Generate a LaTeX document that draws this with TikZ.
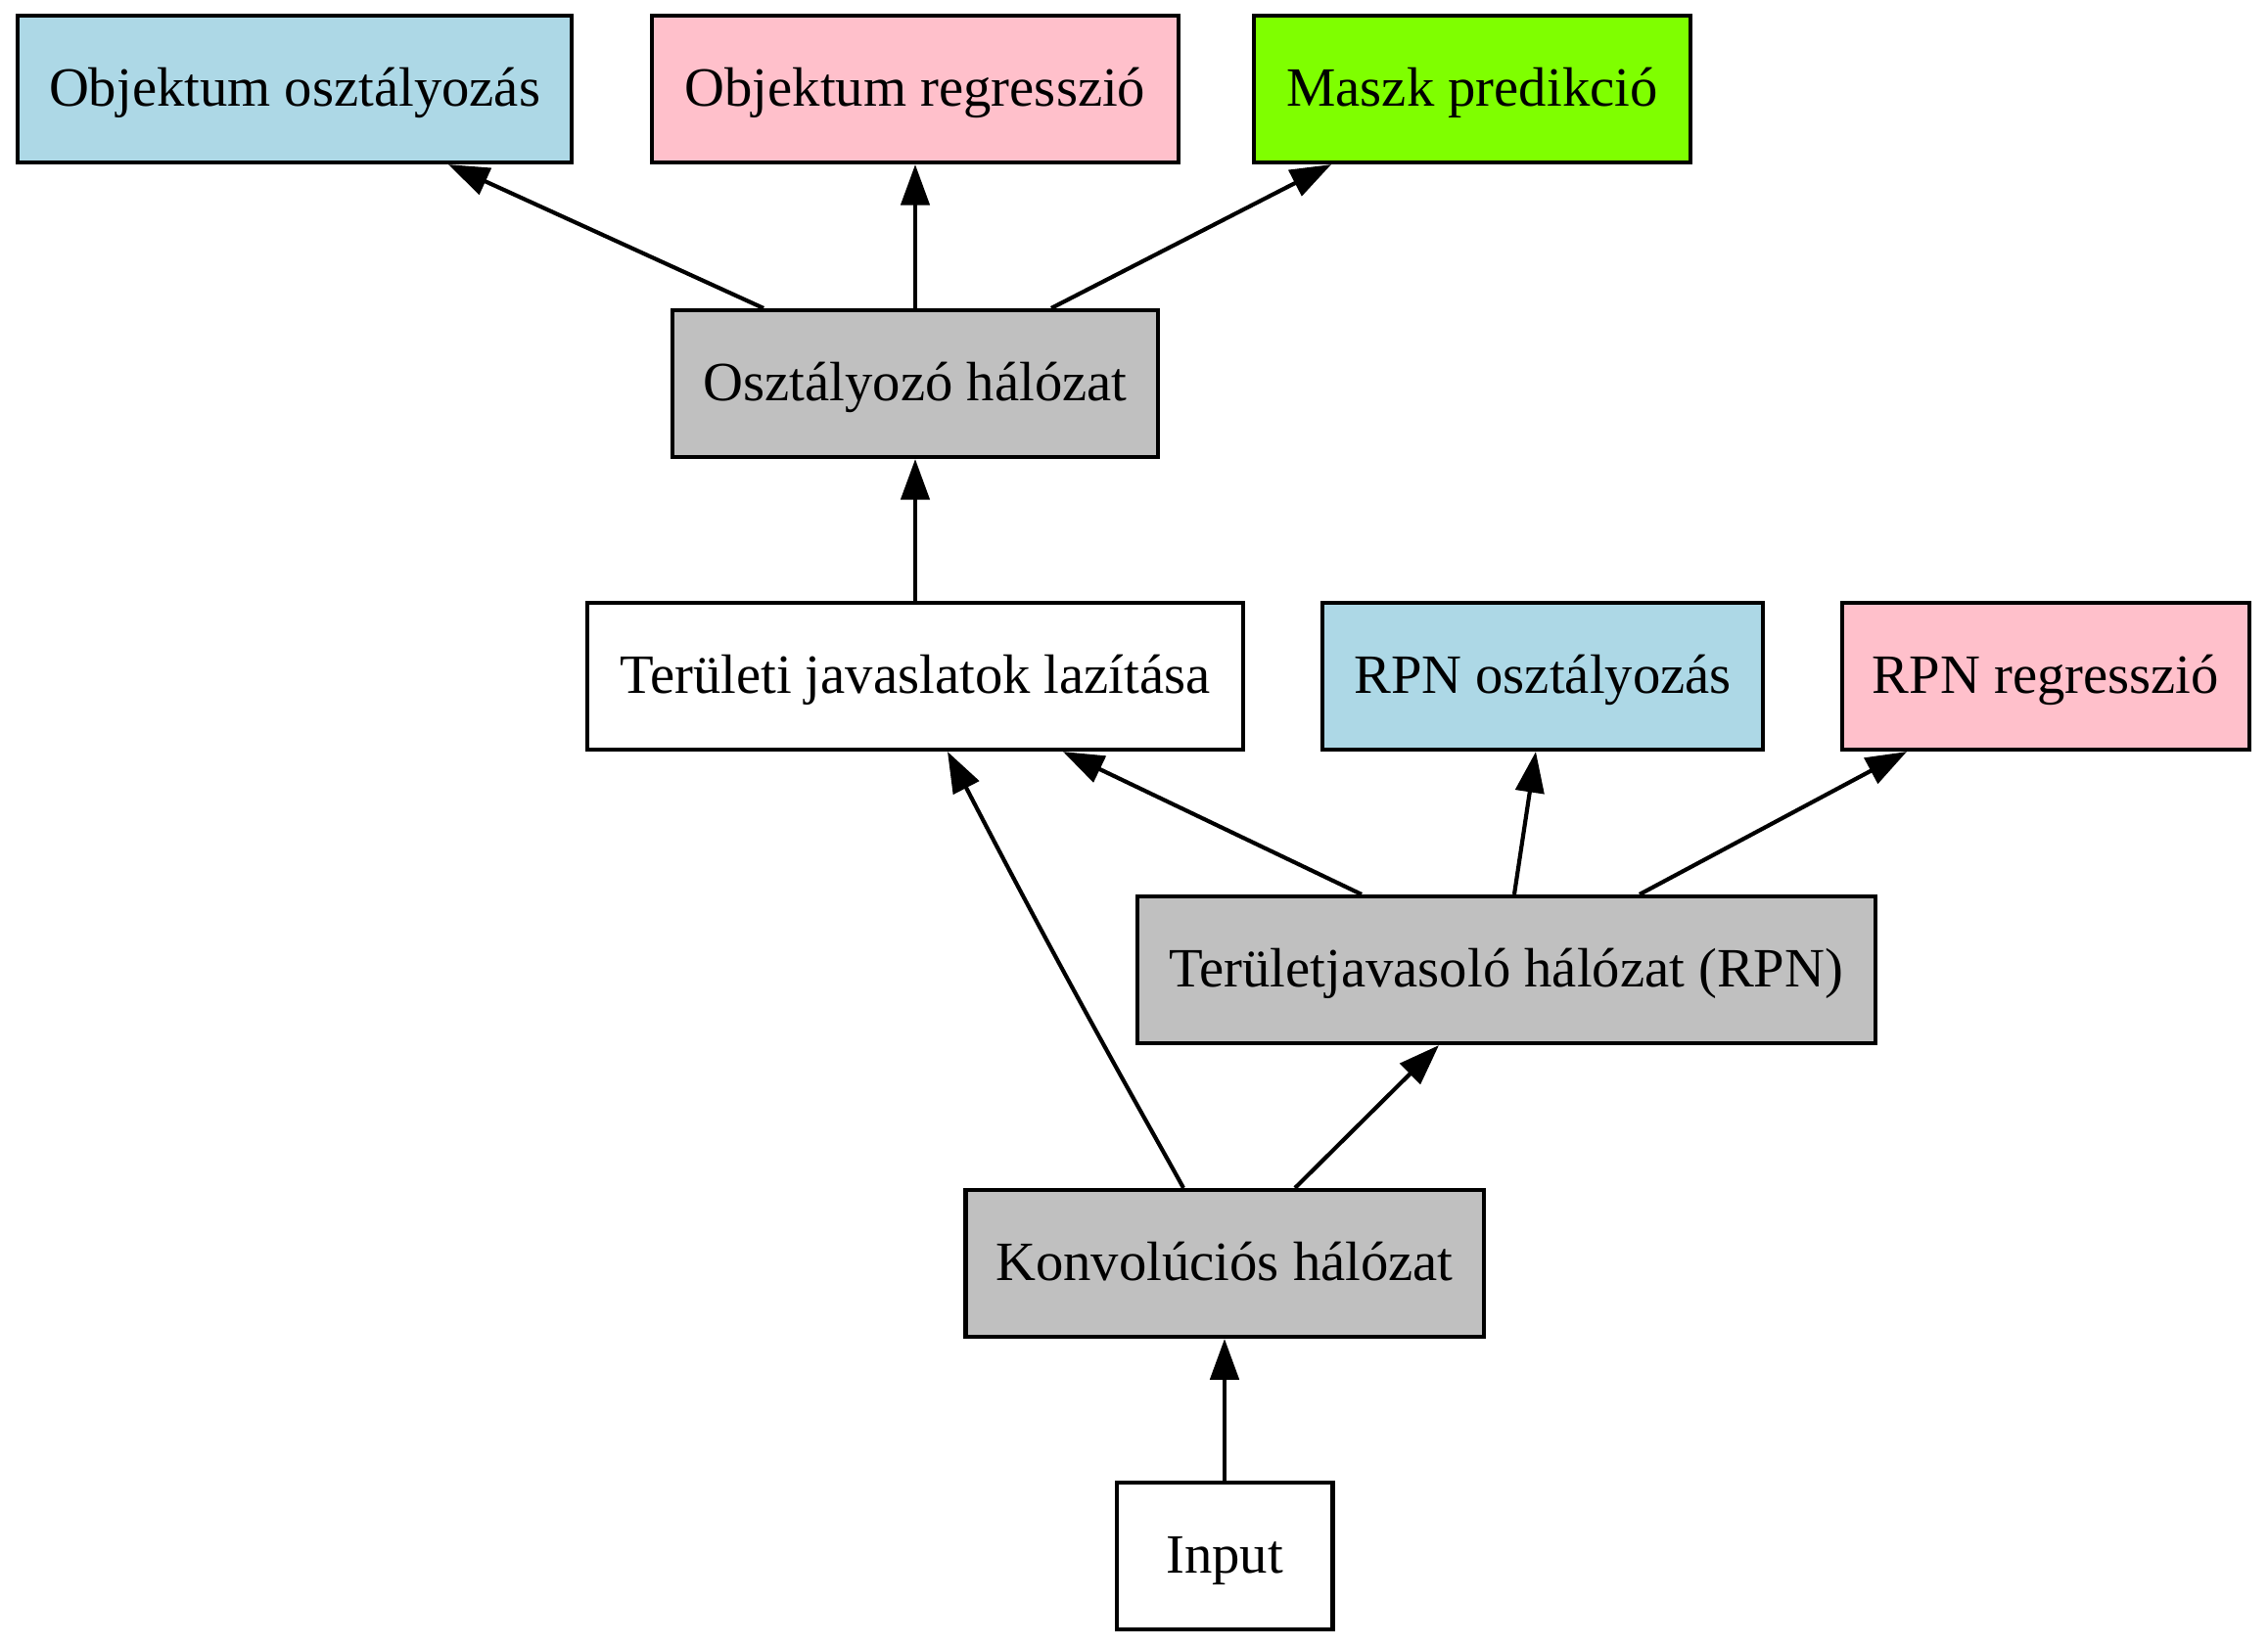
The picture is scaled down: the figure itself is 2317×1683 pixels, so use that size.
\documentclass[tikz,border=0pt]{standalone}
\usepackage{fontspec}
\setmainfont{Liberation Serif}
\usetikzlibrary{arrows.meta,calc}
\definecolor{lblue}{RGB}{173,216,230}
\definecolor{lpink}{RGB}{255,192,203}
\definecolor{chart}{RGB}{127,255,0}
\definecolor{lgray}{RGB}{192,192,192}
\begin{document}
\begin{tikzpicture}[x=0.24pt,y=-0.24pt,
  box/.style={draw=black,line width=1pt,rectangle,minimum height=36pt,inner sep=0pt,
    text height=10pt,text depth=1.8pt,
    font=\fontsize{13.6pt}{16pt}\selectfont},
  conn/.style={line width=1pt,-{Triangle[length=10pt,width=7pt]}}]
\useasboundingbox (0,0) rectangle (2317,1683);
\node[box,fill=lblue,minimum width=136pt] (objo) at (301,91) {Objektum osztályozás};
\node[box,fill=lpink,minimum width=129pt] (objr) at (935,91) {Objektum regresszió};
\node[box,fill=chart,minimum width=107pt] (mask) at (1504,91) {Maszk predikció};
\node[box,fill=lgray,minimum width=119pt] (oszt) at (935,392) {Osztályozó hálózat};
\node[box,fill=white,minimum width=161pt] (ter) at (935,691) {Területi javaslatok lazítása};
\node[box,fill=lblue,minimum width=108pt] (rpno) at (1576,691) {RPN osztályozás};
\node[box,fill=lpink,minimum width=100pt] (rpnr) at (2090,691) {RPN regresszió};
\node[box,fill=lgray,minimum width=181pt] (rpn) at (1539,991) {Területjavasoló hálózat (RPN)};
\node[box,fill=lgray,minimum width=127pt] (konv) at (1251,1291) {Konvolúciós hálózat};
\node[box,fill=white,minimum width=53pt] (inp) at (1251,1590) {Input};
\draw[conn] ($(oszt.north)+(-155,0)$) -- ($(objo.south)+(157,0)$);
\draw[conn] (oszt.north) -- (objr.south);
\draw[conn] ($(oszt.north)+(139,0)$) -- ($(mask.south)+(-144,0)$);
\draw[conn] (ter.north) -- (oszt.south);
\draw[conn] ($(rpn.north)+(-148,0)$) -- ($(ter.south)+(151,0)$);
\draw[conn] ($(rpn.north)+(8,0)$) -- ($(rpno.south)+(-7,0)$);
\draw[conn] ($(rpn.north)+(136,0)$) -- ($(rpnr.south)+(-142,0)$);
\draw[conn] ($(konv.north)+(-42,0)$) .. controls ($(konv.north)+(-72,-55)$) and ($(ter.south)+(164,253)$) .. ($(ter.south)+(33,0)$);
\draw[conn] ($(konv.north)+(72,0)$) -- ($(rpn.south)+(-69,0)$);
\draw[conn] (inp.north) -- (konv.south);
\end{tikzpicture}
\end{document}
